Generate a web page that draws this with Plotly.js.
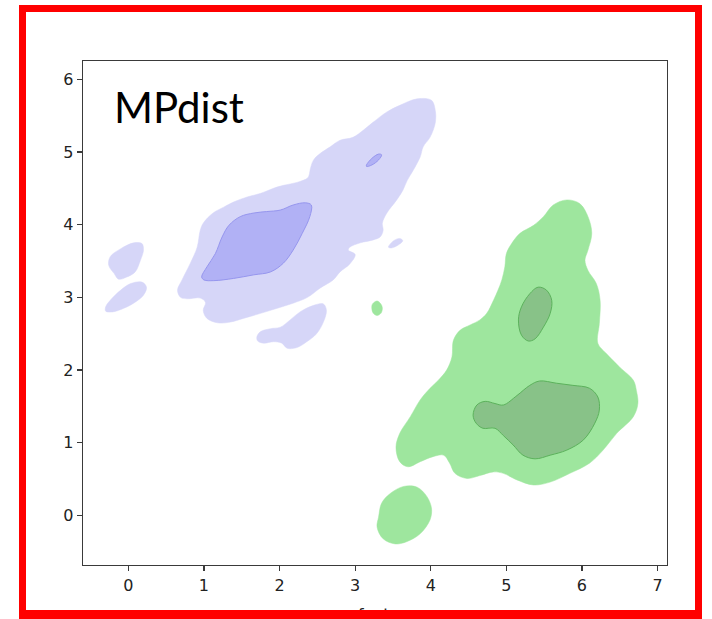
<!DOCTYPE html>
<html>
<head>
<meta charset="utf-8">
<script src="https://cdn.plot.ly/plotly-3.0.1.min.js"></script>
<style>
  html, body { margin: 0; padding: 0; background: #fff; }
  #wrap { position: relative; width: 712px; height: 619px; overflow: hidden; }
  #chart { position: absolute; left: 0; top: 0; width: 712px; height: 619px; }
  #frame {
    position: absolute; left: 19px; top: 5px; width: 683px; height: 614px;
    box-sizing: border-box; border: 7px solid #ff0000; border-bottom-width: 9px;
    pointer-events: none;
  }
</style>
</head>
<body>
<div id="wrap">
  <div id="chart"></div>
  <div id="frame"></div>
</div>
<script>
// Density contour outlines (x, y in data units), class A (blue) and class B (green)
const blueOuterMain = [[4.01,5.71],[4.06,5.57],[4.06,5.40],[3.99,5.20],[3.90,5.07],[3.86,4.93],[3.77,4.75],[3.69,4.61],[3.63,4.47],[3.55,4.34],[3.42,4.16],[3.36,4.02],[3.37,3.92],[3.33,3.83],[3.24,3.79],[3.07,3.75],[2.93,3.69],[2.91,3.65],[3.00,3.59],[2.93,3.46],[2.80,3.35],[2.71,3.24],[2.54,3.13],[2.37,3.00],[2.18,2.92],[1.97,2.85],[1.75,2.78],[1.52,2.71],[1.35,2.66],[1.18,2.65],[1.04,2.71],[0.99,2.82],[1.02,2.93],[0.95,2.99],[0.78,2.98],[0.69,3.00],[0.65,3.10],[0.71,3.24],[0.82,3.47],[0.91,3.69],[0.95,3.92],[0.99,4.02],[1.12,4.16],[1.26,4.24],[1.39,4.31],[1.57,4.38],[1.75,4.43],[1.92,4.50],[2.05,4.54],[2.23,4.58],[2.37,4.64],[2.39,4.68],[2.41,4.78],[2.45,4.89],[2.54,4.98],[2.67,5.07],[2.80,5.16],[2.97,5.20],[3.11,5.30],[3.24,5.41],[3.42,5.55],[3.59,5.64],[3.82,5.73]];
const blueOuterLow = [[1.70,2.46],[1.75,2.53],[1.88,2.57],[2.01,2.59],[2.14,2.69],[2.27,2.80],[2.45,2.89],[2.58,2.91],[2.62,2.82],[2.58,2.66],[2.49,2.50],[2.36,2.39],[2.23,2.31],[2.10,2.30],[2.03,2.37],[1.92,2.39],[1.79,2.37],[1.71,2.40]];
const blueOuterLeftA = [[-0.24,3.56],[-0.10,3.67],[0.07,3.75],[0.18,3.74],[0.20,3.65],[0.16,3.51],[0.09,3.35],[-0.02,3.28],[-0.13,3.25],[-0.19,3.33],[-0.26,3.44]];
const blueOuterLeftB = [[-0.30,2.87],[-0.24,2.96],[-0.10,3.10],[0.03,3.19],[0.18,3.21],[0.24,3.14],[0.20,3.03],[0.07,2.92],[-0.06,2.85],[-0.21,2.80],[-0.30,2.81]];
const blueOuterSpeck = [[3.44,3.69],[3.51,3.78],[3.59,3.81],[3.63,3.78],[3.57,3.72],[3.48,3.68]];
const blueInnerMain = [[0.97,3.28],[1.04,3.42],[1.15,3.60],[1.24,3.83],[1.33,3.99],[1.48,4.11],[1.66,4.16],[1.83,4.18],[2.01,4.20],[2.18,4.27],[2.34,4.30],[2.42,4.27],[2.40,4.11],[2.30,3.88],[2.18,3.65],[2.05,3.47],[1.88,3.35],[1.66,3.31],[1.39,3.26],[1.13,3.23],[1.00,3.24]];
const blueInnerSpeck = [[3.15,4.82],[3.22,4.91],[3.31,4.97],[3.35,4.96],[3.31,4.89],[3.22,4.82],[3.15,4.80]];

const greenOuterMain = [[5.80,4.34],[5.97,4.29],[6.08,4.11],[6.13,3.88],[6.08,3.65],[6.04,3.51],[6.08,3.37],[6.19,3.19],[6.24,2.96],[6.23,2.64],[6.21,2.37],[6.32,2.23],[6.50,2.04],[6.68,1.86],[6.72,1.72],[6.74,1.54],[6.68,1.36],[6.46,1.13],[6.28,0.90],[6.10,0.72],[5.84,0.58],[5.58,0.46],[5.36,0.42],[5.14,0.49],[4.96,0.58],[4.83,0.60],[4.65,0.55],[4.48,0.51],[4.32,0.58],[4.25,0.72],[4.17,0.83],[4.03,0.81],[3.86,0.74],[3.70,0.67],[3.59,0.74],[3.54,0.94],[3.59,1.13],[3.73,1.36],[3.86,1.59],[3.99,1.75],[4.10,1.86],[4.21,2.00],[4.28,2.18],[4.30,2.41],[4.39,2.55],[4.52,2.62],[4.65,2.69],[4.74,2.78],[4.83,2.96],[4.89,3.10],[4.94,3.24],[4.98,3.42],[5.00,3.60],[5.07,3.74],[5.18,3.88],[5.36,3.99],[5.49,4.11],[5.62,4.27]];
const greenOuterLow = [[3.31,-0.02],[3.35,0.17],[3.46,0.30],[3.64,0.40],[3.82,0.39],[3.95,0.26],[4.01,0.10],[3.99,-0.06],[3.86,-0.25],[3.68,-0.36],[3.53,-0.39],[3.37,-0.32],[3.29,-0.16]];
const greenOuterSpeck = [[3.29,2.95],[3.34,2.91],[3.36,2.85],[3.34,2.78],[3.29,2.75],[3.24,2.78],[3.22,2.85],[3.23,2.91]];
const greenInnerUpper = [[5.16,2.69],[5.20,2.87],[5.31,3.05],[5.42,3.14],[5.53,3.10],[5.60,2.96],[5.58,2.78],[5.49,2.59],[5.38,2.43],[5.29,2.40],[5.20,2.48]];
const greenInnerLower = [[4.56,1.38],[4.61,1.52],[4.72,1.57],[4.85,1.54],[4.96,1.52],[5.14,1.65],[5.31,1.79],[5.44,1.85],[5.66,1.82],[5.88,1.79],[6.10,1.75],[6.21,1.63],[6.23,1.45],[6.17,1.27],[6.02,1.04],[5.80,0.90],[5.58,0.83],[5.38,0.78],[5.22,0.83],[5.09,0.97],[4.96,1.10],[4.85,1.20],[4.69,1.20],[4.60,1.27]];

const xTicks = [0, 1, 2, 3, 4, 5, 6, 7];
const yTicks = [0, 1, 2, 3, 4, 5, 6];
const panelLabel = 'MPdist';
const xTitle = 'feature';

// Join several closed outlines into one trace, separated by gaps
function level(outlines, fillColor, lineColor, lineWidth) {
  const x = [], y = [];
  outlines.forEach((poly, i) => {
    if (i > 0) { x.push(null); y.push(null); }
    poly.forEach(p => { x.push(p[0]); y.push(p[1]); });
    x.push(poly[0][0]); y.push(poly[0][1]);
  });
  return {
    type: 'scatter', mode: 'lines', x: x, y: y,
    fill: 'toself', fillcolor: fillColor,
    line: { color: lineColor, width: lineWidth, shape: 'spline', smoothing: 1 },
    hoverinfo: 'skip', showlegend: false
  };
}

const traces = [
  level([blueOuterMain, blueOuterLow, blueOuterLeftA, blueOuterLeftB, blueOuterSpeck], 'rgb(214,214,248)', 'rgb(214,214,248)', 0.5),
  level([blueInnerMain, blueInnerSpeck], 'rgb(177,177,245)', 'rgb(150,150,238)', 1),
  level([greenOuterMain, greenOuterLow, greenOuterSpeck], 'rgb(158,230,158)', 'rgb(158,230,158)', 0.5),
  level([greenInnerUpper, greenInnerLower], 'rgb(136,194,136)', 'rgb(92,178,92)', 1)
];

const axisCommon = {
  showgrid: false, zeroline: false, showline: true, mirror: true,
  linecolor: '#3a3a3a', linewidth: 1.3,
  ticks: 'outside', ticklen: 5, tickwidth: 1.2, tickcolor: '#3a3a3a',
  tickfont: { family: 'DejaVu Sans', size: 16, color: '#222' }
};

// pixel helpers for paper-positioned text (plot area: x 83..667, y 61..565)
const px = v => (v - 83) / 584;
const py = v => (565 - v) / 504;

const layout = {
  width: 712, height: 619,
  margin: { l: 83, r: 45, t: 61, b: 54, pad: 0 },
  paper_bgcolor: '#fff', plot_bgcolor: '#fff',
  xaxis: Object.assign({}, axisCommon, {
    range: [-0.6, 7.125], tickvals: xTicks, ticktext: xTicks.map(String)
  }),
  yaxis: Object.assign({}, axisCommon, {
    range: [-0.68, 6.25], tickvals: yTicks, ticktext: yTicks.map(String)
  }),
  annotations: [{
    text: panelLabel, xref: 'paper', yref: 'paper',
    x: px(112), y: py(134), xanchor: 'left', yanchor: 'bottom',
    showarrow: false, font: { family: 'Lato', size: 42, color: '#000' }
  }, {
    text: xTitle, xref: 'paper', yref: 'paper',
    x: px(356), y: py(603), xanchor: 'left', yanchor: 'top',
    showarrow: false, font: { family: 'DejaVu Sans', size: 16, color: '#222' }
  }]
};

Plotly.newPlot('chart', traces, layout, { staticPlot: true, displayModeBar: false });
</script>
</body>
</html>
